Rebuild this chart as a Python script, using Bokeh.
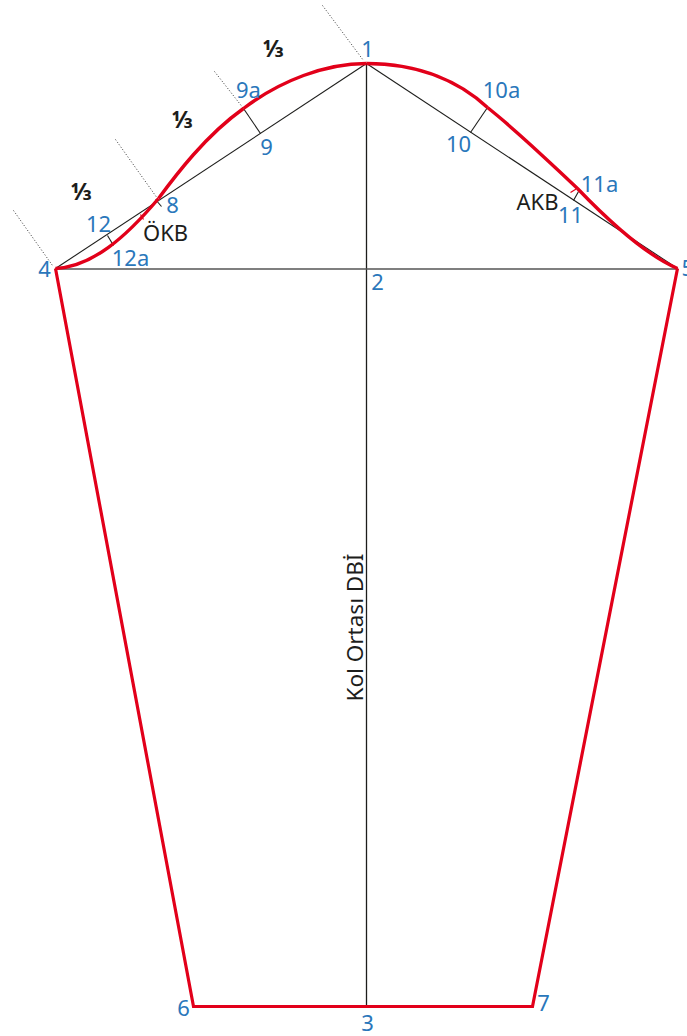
from bokeh.plotting import figure
from bokeh.models import Range1d
from bokeh.core.properties import value
from bokeh.embed import file_html
from bokeh.resources import INLINE

# Pattern geometry (page pixels)
outline_x = [55, 193, 532, 677]
outline_y = [268, 1006, 1006, 268]

curve_x0 = [55, 158, 243, 366, 487, 577]
curve_y0 = [268, 198, 108, 63, 107, 188]
curve_cx0 = [92, 175, 280, 420, 522, 600]
curve_cy0 = [266, 175, 80, 63, 135, 212]
curve_cx1 = [125, 205, 325, 460, 548, 640]
curve_cy1 = [237, 135, 63, 82, 161, 252]
curve_x1 = [158, 243, 366, 487, 577, 677]
curve_y1 = [198, 108, 63, 107, 188, 268]

thin_x0 = [55, 366, 260, 470, 573, 107, 155]
thin_y0 = [268, 63, 133, 132, 200, 235, 199]
thin_x1 = [366, 677, 243, 487, 578, 113, 161]
thin_y1 = [63, 268, 108, 107, 191, 245, 206]

centre_x = [366, 366]
centre_y = [63, 1006]
base_x = [55, 677]
base_y = [268.5, 268.5]

dot_x0 = [13, 115, 214, 322]
dot_y0 = [210, 139, 71, 5]
dot_x1 = [52, 157, 243, 363]
dot_y1 = [265, 198, 108, 60]

red_tick_x0 = [570, 140]
red_tick_y0 = [192, 214]
red_tick_x1 = [578, 143]
red_tick_y1 = [187, 219]

labels = ["1", "2", "3", "4", "6", "7", "8", "9", "9a", "10", "10a", "11", "11a", "12", "12a"]
label_x = [367, 377, 367, 44, 183, 543, 172, 266, 248, 458, 501, 570, 599, 98, 130]
label_y = [48, 281, 1022, 268, 1007, 1002, 204, 146, 88, 143, 88, 214, 182, 223, 256]

names = ["ÖKB", "AKB"]
name_x = [165, 537]
name_y = [231, 200]

thirds = ["⅓", "⅓", "⅓"]
third_x = [273, 182, 81]
third_y = [47, 118, 190]

RED = "#e2001a"
BLUE = "#2a77bb"
INK = "#1d1d1b"
FONT = value("Noto Sans")

p = figure(width=687, height=1036, output_backend="svg", toolbar_location=None,
           x_range=Range1d(0, 687), y_range=Range1d(1036, 0),
           min_border=0, outline_line_color=None)
p.axis.visible = False
p.grid.visible = False

p.line(centre_x, centre_y, line_color=INK, line_width=1.3)
p.line(base_x, base_y, line_color="#555555", line_width=1.5)
p.segment(thin_x0, thin_y0, thin_x1, thin_y1, line_color=INK, line_width=1.1)
p.segment(dot_x0, dot_y0, dot_x1, dot_y1, line_color="#333333", line_width=1, line_dash="1 2")
p.segment(red_tick_x0, red_tick_y0, red_tick_x1, red_tick_y1, line_color=RED, line_width=1.2)
p.line(outline_x, outline_y, line_color=RED, line_width=3.2, line_join="miter")
p.bezier(curve_x0, curve_y0, curve_x1, curve_y1, curve_cx0, curve_cy0, curve_cx1, curve_cy1,
         line_color=RED, line_width=3.4)

p.text(label_x, label_y, text=labels, text_color=BLUE, text_font=FONT, text_font_size="22px",
       text_align="center", text_baseline="middle")
p.text([681], [267], text=["5"], text_color=BLUE, text_font=FONT, text_font_size="22px",
       text_align="left", text_baseline="middle")
p.text(name_x, name_y, text=names, text_color=INK, text_font=FONT, text_font_size="22px",
       text_align="center", text_baseline="middle")
p.text(third_x, third_y, text=thirds, text_color=INK, text_font=FONT, text_font_size="24px",
       text_align="center", text_baseline="middle", text_font_style="bold")
p.text([354], [627], text=["Kol Ortası DBİ"], angle=1.5708, text_color=INK, text_font=FONT,
       text_font_size="22.5px", text_align="center", text_baseline="middle")

open("out.html", "w").write(file_html(p, INLINE))
